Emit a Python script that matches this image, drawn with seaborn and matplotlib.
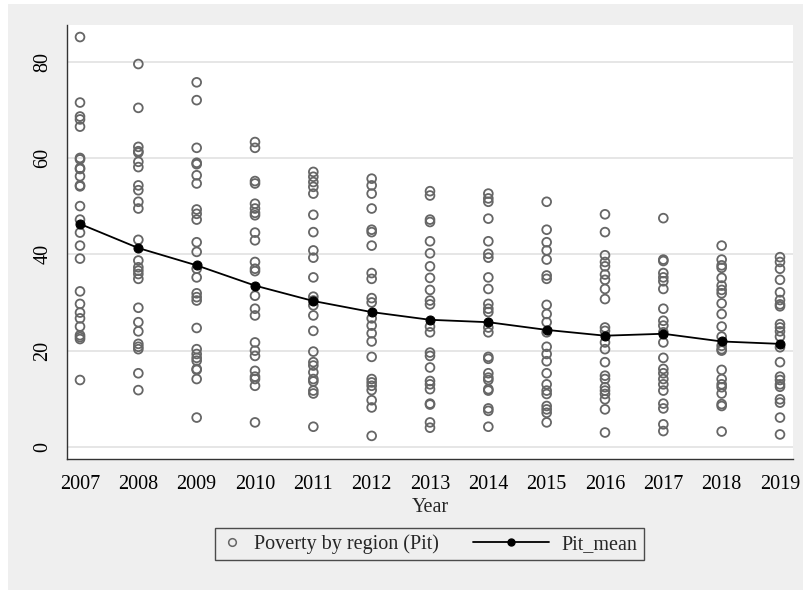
import matplotlib
matplotlib.use("Agg")
import matplotlib.pyplot as plt
from matplotlib.patches import Rectangle
from matplotlib.lines import Line2D
from matplotlib.legend_handler import HandlerLine2D
import seaborn as sns
import pandas as pd

# Poverty rate by region (Pit), one list per year
years = [2007, 2008, 2009, 2010, 2011, 2012, 2013, 2014, 2015, 2016, 2017, 2018, 2019]

pit_2007 = [85.1, 71.5, 68.6, 68.0, 66.5, 60.0, 59.7, 57.9, 57.7, 56.2, 54.3, 54.1, 50.0,
            47.2, 44.5, 41.8, 39.1, 32.3, 29.7, 27.9, 26.7, 25.0, 23.2, 22.8, 22.4, 13.9]
pit_2008 = [79.5, 70.4, 62.3, 61.4, 61.1, 59.2, 58.1, 54.3, 53.3, 50.9, 49.5, 43.0, 38.7,
            37.3, 36.6, 35.9, 34.9, 28.9, 25.9, 24.0, 21.4, 20.8, 20.3, 15.3, 11.8]
pit_2009 = [75.7, 72.0, 62.1, 59.0, 58.7, 56.4, 54.7, 49.3, 48.4, 47.2, 42.5, 40.5, 37.0,
            35.2, 31.9, 31.1, 30.4, 24.7, 20.3, 19.3, 18.5, 17.9, 16.2, 16.0, 14.1, 6.1]
pit_2010 = [63.3, 62.1, 55.2, 54.7, 50.5, 49.5, 48.6, 48.1, 44.5, 42.9, 38.4, 37.0, 36.5,
            31.4, 28.7, 27.3, 21.7, 20.0, 18.9, 15.8, 14.6, 14.1, 12.7, 5.1]
pit_2011 = [57.1, 56.1, 55.0, 54.0, 52.6, 48.2, 44.6, 40.8, 39.3, 35.2, 31.2, 30.4, 29.4,
            27.3, 24.1, 19.8, 17.6, 16.9, 15.5, 14.1, 13.6, 11.7, 11.1, 4.2]
pit_2012 = [55.7, 54.3, 52.6, 49.5, 45.1, 44.6, 41.8, 36.1, 34.9, 30.9, 30.0, 26.7, 25.2,
            23.6, 21.9, 18.7, 14.1, 13.4, 12.7, 11.8, 9.7, 8.2, 2.3]
pit_2013 = [53.1, 52.2, 47.2, 46.7, 42.7, 40.2, 37.5, 35.1, 32.6, 30.4, 29.6, 25.0, 23.8,
            19.6, 18.9, 16.5, 13.7, 13.0, 12.0, 9.0, 8.8, 5.1, 4.0]
pit_2014 = [52.6, 51.6, 50.9, 47.4, 42.7, 40.1, 39.3, 35.2, 32.8, 29.7, 28.7, 28.0, 24.8,
            23.8, 18.7, 18.3, 15.3, 14.4, 13.9, 12.0, 11.7, 8.0, 7.5, 4.2]
pit_2015 = [50.9, 45.1, 42.5, 40.8, 38.9, 35.6, 34.9, 29.5, 27.6, 25.9, 23.8, 20.8, 19.3,
            17.8, 15.3, 13.0, 11.7, 11.0, 8.5, 7.8, 7.1, 5.1]
pit_2016 = [48.3, 44.6, 39.8, 38.4, 37.5, 35.8, 34.7, 32.8, 30.7, 24.8, 24.1, 21.7, 20.3,
            17.6, 14.8, 14.1, 12.4, 11.7, 11.0, 9.9, 7.8, 3.0]
pit_2017 = [47.5, 38.9, 38.6, 36.1, 35.2, 34.4, 32.8, 28.7, 26.2, 25.2, 23.8, 21.7, 18.5,
            16.2, 15.3, 14.1, 13.0, 11.7, 9.0, 8.0, 4.7, 3.3]
pit_2018 = [41.8, 38.9, 37.7, 37.2, 35.1, 33.5, 32.6, 31.9, 29.8, 27.6, 25.0, 22.9, 21.0,
            20.3, 20.0, 16.0, 14.1, 13.0, 12.4, 11.1, 8.9, 8.5, 3.2]
pit_2019 = [39.4, 38.4, 37.0, 34.7, 32.1, 30.5, 29.6, 29.2, 25.5, 24.8, 24.0, 22.9, 20.7,
            17.6, 14.6, 13.9, 13.0, 12.5, 9.9, 9.2, 6.1, 2.6]

# Yearly mean across regions
pit_mean = [46.3, 41.3, 37.7, 33.5, 30.3, 28.0, 26.4, 25.9, 24.3, 23.1, 23.5, 21.9, 21.4]

y_ticks = [0, 20, 40, 60, 80]

by_year = [pit_2007, pit_2008, pit_2009, pit_2010, pit_2011, pit_2012, pit_2013,
           pit_2014, pit_2015, pit_2016, pit_2017, pit_2018, pit_2019]
points = pd.DataFrame(
    [(yr, v) for yr, vals in zip(years, by_year) for v in vals],
    columns=["Year", "Pit"],
)
means = pd.DataFrame({"Year": years, "Pit_mean": pit_mean})

sns.set_style("white")
plt.rcParams["font.family"] = ["Liberation Serif", "DejaVu Serif"]

W, H = 804, 590
FS = 14.5
fig = plt.figure(figsize=(W / 100, H / 100), dpi=100, facecolor="white")
bg = "#efefef"
fig.patches.append(Rectangle((8 / W, 0), 1 - 8 / W, 1 - 4 / H,
                             transform=fig.transFigure, facecolor=bg,
                             edgecolor="none", zorder=-10))

ax = fig.add_axes([67 / W, 1 - 459 / H, (793 - 67) / W, (459 - 25) / H])
ax.set_facecolor("white")

ring = "#666666"
sns.scatterplot(data=points, x="Year", y="Pit", ax=ax, marker="o", s=40,
                facecolor="none", edgecolor=ring, linewidth=1.3, zorder=3,
                legend=False)
sns.lineplot(data=means, x="Year", y="Pit_mean", ax=ax, color="black",
             linewidth=1.3, marker="o", markersize=6.5, markerfacecolor="black",
             markeredgecolor="black", zorder=4, legend=False)

ax.set_xlim(2006.777, 2019.223)
ax.set_ylim(-2.5, 87.6)
ax.set_xticks(years)
ax.set_xticklabels([str(y) for y in years])
ax.set_yticks(y_ticks)
ax.set_yticklabels([str(t) for t in y_ticks])
ax.grid(axis="y", color="#e6e6e6", linewidth=1.4)
ax.grid(axis="x", visible=False)
ax.set_axisbelow(True)

for side in ["top", "right"]:
    ax.spines[side].set_visible(False)
for side in ["left", "bottom"]:
    ax.spines[side].set_color("#333333")
    ax.spines[side].set_linewidth(1.0)

ax.tick_params(axis="both", direction="out", length=5.5, width=1.0,
               color="#333333", labelsize=FS, labelcolor="black")
ax.tick_params(axis="x", pad=6.0)
ax.tick_params(axis="y", pad=5)
for lab in ax.get_yticklabels():
    lab.set_rotation(90)
    lab.set_va("center")

ax.set_xlabel("Year", fontsize=FS, labelpad=3.0)
ax.set_ylabel("")


class LongLineHandler(HandlerLine2D):
    """Draws the legend line extending to the left of the handle box."""

    def __init__(self, extra, **kw):
        super().__init__(**kw)
        self.extra = extra

    def create_artists(self, legend, orig_handle, xdescent, ydescent,
                       width, height, fontsize, trans):
        full = width + self.extra * fontsize
        return super().create_artists(legend, orig_handle, xdescent + (full - width),
                                      ydescent, full, height, fontsize, trans)


h_pts = Line2D([], [], linestyle="none", marker="o", markersize=5.5,
               markerfacecolor="none", markeredgecolor=ring, markeredgewidth=1.1)
h_mean = Line2D([], [], color="black", linewidth=1.3, marker="o", markersize=5,
                markerfacecolor="black", markeredgecolor="black")
leg = fig.legend([h_pts, h_mean], ["Poverty by region (Pit)", "Pit_mean"],
                 loc="center", bbox_to_anchor=(429.5 / W, 1 - 544 / H),
                 ncol=2, fontsize=FS, frameon=True, fancybox=False,
                 handlelength=1.0, handletextpad=0.6, columnspacing=4.5,
                 borderpad=0.32,
                 handler_map={h_mean: LongLineHandler(extra=2.8)})
leg.get_frame().set_facecolor(bg)
leg.get_frame().set_edgecolor("#222222")
leg.get_frame().set_linewidth(1.0)

fig.savefig("out.png", dpi=100, facecolor="white")
